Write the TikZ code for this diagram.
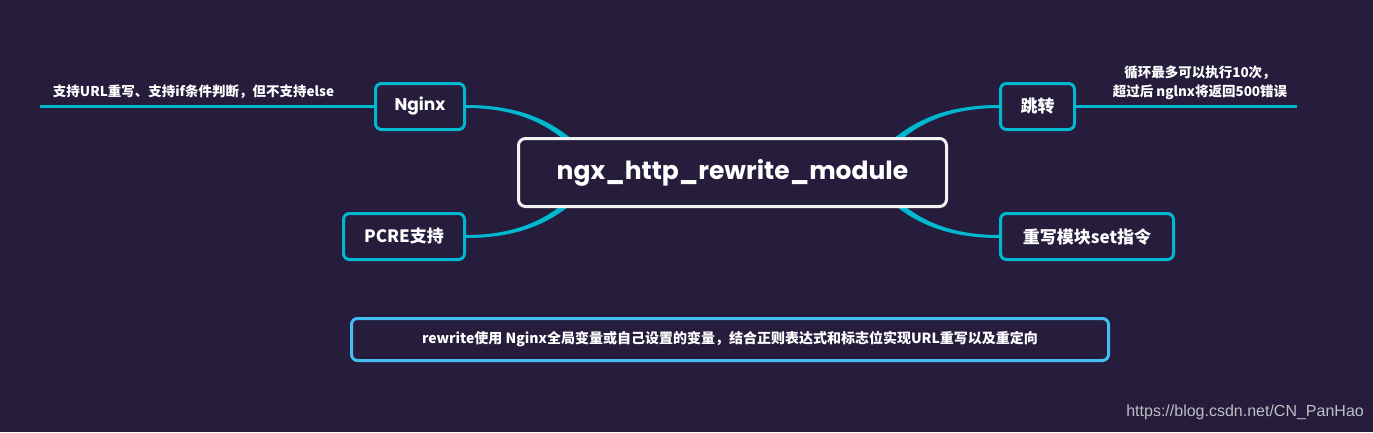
\documentclass[tikz,border=0pt]{standalone}
\usepackage{fontspec}
\setmainfont{Noto Sans CJK SC}
\newfontfamily\titlefont{Poppins}
\newfontfamily\urlfont{Liberation Sans}

\definecolor{bgcol}{RGB}{38,29,61}
\definecolor{cyanline}{RGB}{0,183,208}
\definecolor{notecol}{RGB}{66,190,240}
\definecolor{rootcol}{RGB}{242,242,242}
\definecolor{urlgray}{RGB}{190,190,196}

\tikzset{
  topicbox/.style={draw=cyanline, line width=3pt, rounded corners=6pt, fill=bgcol,
    text=white, minimum height=46pt, inner sep=0pt,
    font=\bfseries\fontsize{17}{17}\selectfont},
  rootbox/.style={draw=rootcol, line width=3pt, rounded corners=7pt, fill=bgcol,
    text=white, minimum width=428pt, minimum height=68pt, inner sep=0pt,
    font=\titlefont\bfseries\fontsize{25}{25}\selectfont},
  notebox/.style={draw=notecol, line width=3pt, rounded corners=6pt, fill=bgcol,
    text=white, minimum width=757pt, minimum height=42pt, inner sep=0pt,
    font=\bfseries\fontsize{14}{14}\selectfont},
  notetext/.style={text=white, inner sep=0pt, align=center,
    font=\bfseries\fontsize{13.5}{19}\selectfont},
  noteline/.style={draw=cyanline, line width=3pt},
  branch/.style={fill=cyanline}
}

\begin{document}
\begin{tikzpicture}[x=1pt, y=-1pt]

\path [use as bounding box, fill=bgcol] (0,0) rectangle (1373,432);

% TOPICS
\node[topicbox, minimum width=89pt] (nginx) at (420,106.5) {\titlefont Nginx};
\node[topicbox, minimum width=121pt] (pcre) at (404,236.5) {PCRE支持};
\node[topicbox, minimum width=74pt] (jump) at (1037.5,106.5) {跳转};
\node[topicbox, minimum width=173pt] (setcmd) at (1087,236.5) {重写模块set指令};

% BRANCHES
\fill[branch] (nginx.east) ++(0,-1.5) .. controls +(56,0) and +(-27,-28) .. ++(118,45.5)
	-- ++(-5,4) .. controls +(-25,-28) and +(54,0) .. ++(-113,-46.5) -- cycle;
\fill[branch] (pcre.east) ++(0,1.5) .. controls +(56,0) and +(-27,28) .. ++(118,-45.5)
	-- ++(-5,-4) .. controls +(-25,28) and +(54,0) .. ++(-113,46.5) -- cycle;
\fill[branch] (jump.west) ++(0,-1.5) .. controls +(-56,0) and +(27,-28) .. ++(-118,45.5)
	-- ++(5,4) .. controls +(25,-28) and +(-54,0) .. ++(113,-46.5) -- cycle;
\fill[branch] (setcmd.west) ++(0,1.5) .. controls +(-56,0) and +(27,28) .. ++(-118,-45.5)
	-- ++(5,-4) .. controls +(25,28) and +(-54,0) .. ++(113,46.5) -- cycle;

% ROOT
\node[rootbox] (root) at (732.5,172.5) {ngx\_http\_rewrite\_module};

% NOTES
\coordinate (nginxend) at (40,106.5);
\coordinate (jumpend) at (1297,106.5);
\draw[noteline] (nginx.west) -- (nginxend);
\draw[noteline] (jump.east) -- (jumpend);
\node[notetext] (nginxnote) at (193.5,92) {支持URL重写、支持if条件判断，但不支持else};
\node[notetext] (jumpnote) at (1200,83) {循环最多可以执行10次，\\超过后 nglnx将返回500错误};

% SUMMARY
\node[notebox] (summary) at (730,339.5) {rewrite使用 Nginx全局变量或自己设置的变量，结合正则表达式和标志位实现URL重写以及重定向};

\node[anchor=east, inner sep=0pt, text=urlgray, font=\urlfont\fontsize{16}{16}\selectfont] (watermark) at (1364,412) {https://blog.csdn.net/CN\_PanHao};

\end{tikzpicture}
\end{document}
